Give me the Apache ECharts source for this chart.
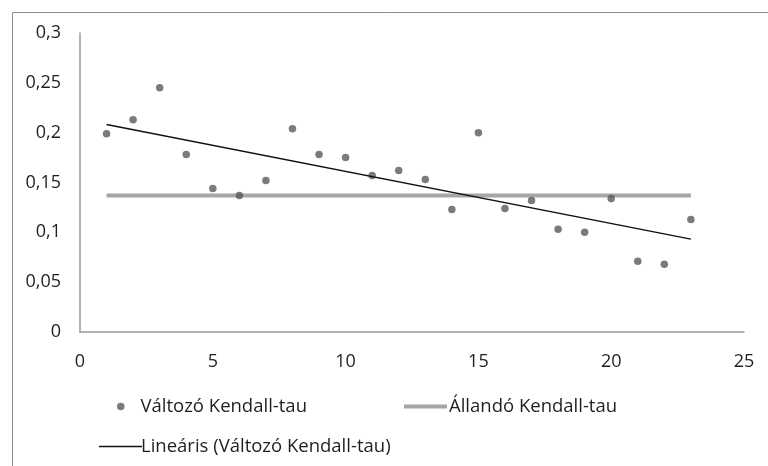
<!DOCTYPE html>
<html>
<head>
<meta charset="utf-8">
<script src="https://cdn.jsdelivr.net/npm/echarts@6/dist/echarts.min.js"></script>
<style>
html,body{margin:0;padding:0;background:#fff;}
#chart{width:768px;height:466px;}
</style>
</head>
<body>
<div id="chart"></div>
<script>
// Data
const xValues = [1,2,3,4,5,6,7,8,9,10,11,12,13,14,15,16,17,18,19,20,21,22,23];
const variableTau = [0.199,0.213,0.245,0.178,0.144,0.137,0.152,0.204,0.178,0.175,0.157,0.162,0.153,0.123,0.200,0.124,0.132,0.103,0.100,0.134,0.071,0.068,0.113];
const constantTau = 0.137;
const constantRange = [1, 23];
const xTicks = [0,5,10,15,20,25];
const yTicks = [0,0.05,0.1,0.15,0.2,0.25,0.3];
const seriesNames = ['Változó Kendall-tau','Állandó Kendall-tau','Lineáris (Változó Kendall-tau)'];

// least-squares trend line of the variable series (as in the reference)
const n = xValues.length;
const mx = xValues.reduce((a,b)=>a+b,0)/n;
const my = variableTau.reduce((a,b)=>a+b,0)/n;
let sxy=0, sxx=0;
for (let i=0;i<n;i++){ sxy += (xValues[i]-mx)*(variableTau[i]-my); sxx += (xValues[i]-mx)**2; }
const slope = sxy/sxx, intercept = my - slope*mx;
const xFirst = xValues[0], xLast = xValues[n-1];
const trendData = [[xFirst, intercept+slope*xFirst],[xLast, intercept+slope*xLast]];

const scatterData = xValues.map((x,i)=>[x, variableTau[i]]);
const constantData = constantRange.map(x=>[x, constantTau]);

const FONT = '"Open Sans", "Noto Sans", sans-serif';
const FS = 18;
const LFS = 18.5;
const TXT = '#1f1f1f';
const fmt = v => String(+v.toFixed(2)).replace('.', ',');

const chart = echarts.init(document.getElementById('chart'), null, {renderer:'canvas'});
chart.setOption({
  animation:false,
  backgroundColor:'#fff',
  textStyle:{fontFamily:FONT},
  graphic:[{type:'rect', left:10, top:10, silent:true, z:-1,
    shape:{x:0,y:0,width:800,height:500},
    style:{fill:'none', stroke:'#8c8c8c', lineWidth:1}}],
  grid:{left:80, right:24, top:33, bottom:134, containLabel:false},
  xAxis:{type:'value', min:xTicks[0], max:xTicks[xTicks.length-1], interval:5,
    axisLine:{show:true, lineStyle:{color:'#999', width:1.5}},
    axisTick:{show:false}, splitLine:{show:false},
    axisLabel:{color:TXT, fontSize:FS, fontFamily:FONT, margin:21}},
  yAxis:{type:'value', min:yTicks[0], max:yTicks[yTicks.length-1], interval:0.05,
    axisLine:{show:true, lineStyle:{color:'#999', width:1.5}},
    axisTick:{show:false}, splitLine:{show:false},
    axisLabel:{color:TXT, fontSize:FS, fontFamily:FONT, margin:19, formatter:fmt}},
  legend:[
    {data:[{name:seriesNames[0], icon:'circle'}], left:112, top:392, itemWidth:7.5, itemHeight:7.5,
      textStyle:{color:TXT, fontSize:LFS, fontFamily:FONT, padding:[0,0,0,11]}},
    {data:[{name:seriesNames[1], icon:'rect'}], left:399, top:392, itemWidth:43, itemHeight:4,
      textStyle:{color:TXT, fontSize:LFS, fontFamily:FONT, padding:[0,0,0,-3]}},
    {data:[{name:seriesNames[2], icon:'rect'}], left:94, top:432, itemWidth:43, itemHeight:1.5,
      textStyle:{color:TXT, fontSize:LFS, fontFamily:FONT, padding:[0,0,0,-6]}}
  ],
  series:[
    {name:seriesNames[1], type:'line', data:constantData, symbol:'none', z:2,
      lineStyle:{color:'#a6a6a6', width:4}, itemStyle:{color:'#a6a6a6'}},
    {name:seriesNames[0], type:'scatter', data:scatterData, symbol:'circle', symbolSize:7.5, z:3,
      itemStyle:{color:'#5a5a5a'}},
    {name:seriesNames[2], type:'line', data:trendData, symbol:'none', z:4,
      lineStyle:{color:'#111', width:1.5}, itemStyle:{color:'#111'}}
  ]
});
</script>
</body>
</html>
